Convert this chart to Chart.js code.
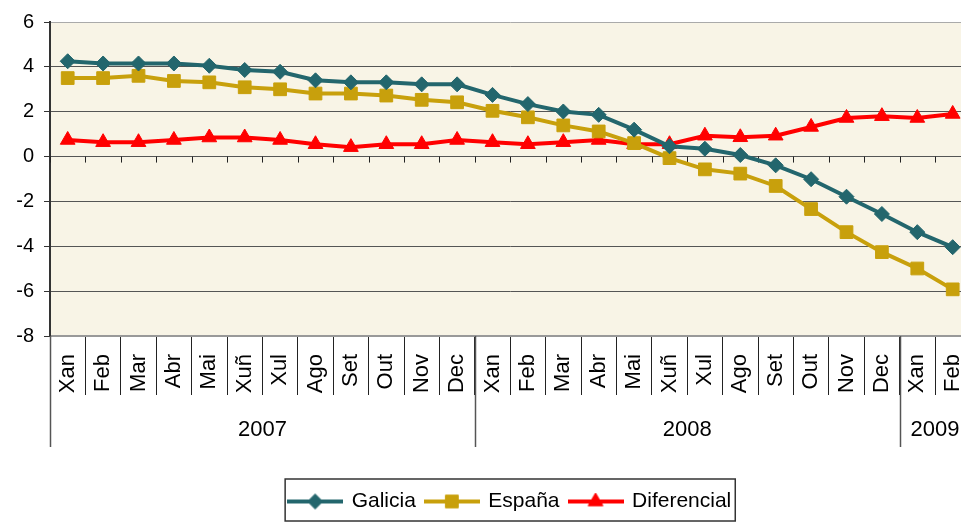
<!DOCTYPE html>
<html>
<head>
<meta charset="utf-8">
<script src="https://cdn.jsdelivr.net/npm/chart.js@4.4.1/dist/chart.umd.min.js"></script>
<style>
  html, body { margin: 0; padding: 0; background: #fff; overflow: hidden; }
  #wrap { position: relative; width: 1000px; height: 522px; }
</style>
</head>
<body>
<div id="wrap"><canvas id="chart"></canvas></div>
<script>
const months = ['Xan','Feb','Mar','Abr','Mai','Xuñ','Xul','Ago','Set','Out','Nov','Dec',
                'Xan','Feb','Mar','Abr','Mai','Xuñ','Xul','Ago','Set','Out','Nov','Dec',
                'Xan','Feb'];
const years = ['2007', '2008', '2009'];
const yearLengths = [12, 12, 2];

const galicia = [4.25, 4.15, 4.15, 4.15, 4.05, 3.86, 3.78, 3.4, 3.31, 3.31, 3.22, 3.22,
                 2.75, 2.34, 2.01, 1.86, 1.2, 0.46, 0.35, 0.07, -0.39, -1.01, -1.79, -2.56,
                 -3.37, -4.04];
const espana = [3.5, 3.5, 3.6, 3.37, 3.31, 3.09, 3.0, 2.81, 2.81, 2.72, 2.53, 2.42,
                2.04, 1.75, 1.39, 1.12, 0.6, -0.07, -0.57, -0.76, -1.31, -2.34, -3.37, -4.26,
                -4.99, -5.92];
const diferencial = [0.74, 0.64, 0.64, 0.74, 0.85, 0.85, 0.74, 0.55, 0.42, 0.55, 0.55, 0.74,
                     0.64, 0.55, 0.64, 0.74, 0.55, 0.55, 0.93, 0.86, 0.93, 1.32, 1.72, 1.8,
                     1.72, 1.9];

const yMin = -8, yMax = 6, yStep = 2;

const TEAL = '#23666d';
const GOLD = '#c8a00c';
const RED = '#ff0000';
const plotBg = '#f8f4e6';

Chart.defaults.font.family = 'Liberation Sans, Arial, sans-serif';
Chart.defaults.color = '#000';

// little line + marker pictures for the legend
function legendIcon(color, style, radius) {
  const c = document.createElement('canvas');
  c.width = 56; c.height = 18;
  const g = c.getContext('2d');
  g.strokeStyle = color;
  g.lineWidth = 4;
  g.beginPath(); g.moveTo(0, 9); g.lineTo(56, 9); g.stroke();
  g.fillStyle = color;
  g.lineWidth = 1;
  Chart.helpers.drawPoint(g, { pointStyle: style, radius: radius, borderWidth: 1, rotation: 0 }, 28, 9);
  return c;
}

const series = [
  { label: 'Galicia', data: galicia, color: TEAL, style: 'rectRot', r: 7.5 },
  { label: 'España', data: espana, color: GOLD, style: 'rect', r: 9 },
  { label: 'Diferencial', data: diferencial, color: RED, style: 'triangle', r: 8.5 }
];
const icons = series.map(s => legendIcon(s.color, s.style, s.r));

const decor = {
  id: 'decor',
  beforeDraw(chart) {
    const { ctx, chartArea: a } = chart;
    ctx.save();
    ctx.fillStyle = plotBg;
    ctx.fillRect(a.left, a.top, a.right - a.left, a.bottom - a.top);
    ctx.restore();
  },
  beforeDatasetsDraw(chart) {
    // small ticks on the zero line
    const { ctx, scales: { x, y } } = chart;
    const y0 = y.getPixelForValue(0);
    ctx.save();
    ctx.strokeStyle = '#222';
    ctx.lineWidth = 1;
    ctx.beginPath();
    for (let i = 0; i <= months.length; i++) {
      const px = Math.round(x.getPixelForValue(i - 0.5)) + 0.5;
      ctx.moveTo(px, y0);
      ctx.lineTo(px, y0 + 6);
    }
    ctx.stroke();
    ctx.restore();
  },
  afterDraw(chart) {
    const { ctx, chartArea: a, scales: { x } } = chart;
    ctx.save();
    // year group row
    ctx.strokeStyle = '#555';
    ctx.lineWidth = 1.5;
    ctx.fillStyle = '#000';
    ctx.font = '22px Liberation Sans, Arial, sans-serif';
    ctx.textAlign = 'center';
    ctx.textBaseline = 'middle';
    let start = 0;
    years.forEach((yr, k) => {
      const end = start + yearLengths[k];
      const px = Math.round(x.getPixelForValue(start - 0.5)) + 0.5;
      ctx.beginPath();
      ctx.moveTo(px, a.bottom);
      ctx.lineTo(px, a.bottom + 111);
      ctx.stroke();
      const cx = (x.getPixelForValue(start) + x.getPixelForValue(end - 1)) / 2;
      ctx.fillText(yr, cx, a.bottom + 94);
      start = end;
    });
    // legend border
    const L = chart.legend;
    const hb = L.legendHitBoxes;
    if (hb && hb.length) {
      const left = hb[0].left - 4;
      const last = hb[hb.length - 1];
      const right = last.left + last.width + 4;
      ctx.strokeStyle = '#333';
      ctx.lineWidth = 1.5;
      ctx.strokeRect(left, L.top - 2, right - left, 521 - L.top + 2);
    }
    ctx.restore();
  }
};

new Chart(document.getElementById('chart'), {
  type: 'line',
  data: {
    labels: months,
    datasets: series.map(s => ({
      label: s.label,
      data: s.data,
      borderColor: s.color,
      backgroundColor: s.color,
      borderWidth: 4,
      tension: 0,
      pointStyle: s.style,
      pointRadius: s.r,
      pointBorderWidth: 1,
      pointBackgroundColor: s.color,
      pointBorderColor: s.color,
      fill: false
    }))
  },
  options: {
    responsive: true,
    maintainAspectRatio: false,
    animation: false,
    layout: { padding: { top: 19, left: 0, right: 29.6, bottom: 0 } },
    plugins: {
      tooltip: { enabled: false },
      legend: {
        position: 'bottom',
        fullSize: false,
        labels: {
          usePointStyle: true,
          pointStyleWidth: 52,
          padding: 10,
          font: { size: 21 },
          color: '#000',
          generateLabels(chart) {
            return chart.data.datasets.map((ds, i) => ({
              text: ds.label,
              pointStyle: icons[i],
              fillStyle: ds.borderColor,
              strokeStyle: ds.borderColor,
              lineWidth: 0,
              hidden: false,
              datasetIndex: i,
              fontColor: '#000'
            }));
          }
        }
      }
    },
    scales: {
      x: {
        offset: true,
        grid: { offset: true, drawOnChartArea: false, drawTicks: true, tickLength: 59, color: '#222' },
        border: { color: '#999', width: 2 },
        ticks: { autoSkip: false, minRotation: 90, maxRotation: 90, padding: -41, font: { size: 22 }, color: '#000' },
        afterFit(s) { s.height = 145; }
      },
      y: {
        min: yMin,
        max: yMax,
        ticks: { stepSize: yStep, padding: 10, font: { size: 20 }, color: '#000' },
        grid: {
          color: c => (c.tick && c.tick.value === yMax) ? '#aaa' : '#555',
          tickLength: 6,
          tickColor: '#333'
        },
        border: { color: '#333', width: 2 },
        afterFit(s) { s.width = 50; }
      }
    }
  },
  plugins: [decor]
});
</script>
</body>
</html>
